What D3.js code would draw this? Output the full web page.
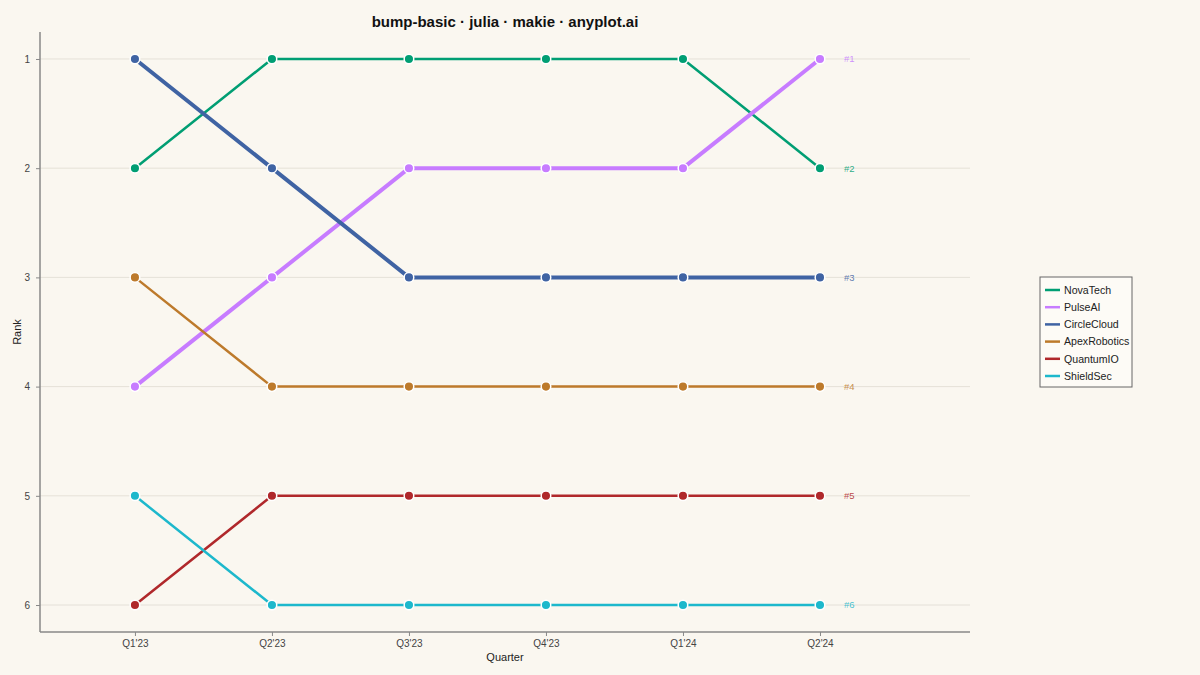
<!DOCTYPE html>
<html><head><meta charset="utf-8">
<script src="https://cdn.jsdelivr.net/npm/d3@7"></script>
<style>
html,body{margin:0;padding:0;background:#FAF7F0;}
svg{display:block;font-family:"Liberation Sans",Arial,sans-serif;}
</style></head>
<body>
<svg id="chart" width="1200" height="675"></svg>
<script>
const quarters = ["Q1'23","Q2'23","Q3'23","Q4'23","Q1'24","Q2'24"];
const companies = ["NovaTech","PulseAI","CircleCloud","ApexRobotics","QuantumIO","ShieldSec"];
const colors = ["#009E73","#C77CFF","#3F63A3","#BD7A2B","#B0282B","#1DB8CC"];
const ranksNovaTech = [2,1,1,1,1,2];
const ranksPulseAI = [4,3,2,2,2,1];
const ranksCircleCloud = [1,2,3,3,3,3];
const ranksApexRobotics = [3,4,4,4,4,4];
const ranksQuantumIO = [6,5,5,5,5,5];
const ranksShieldSec = [5,6,6,6,6,6];
const rankTicks = [1,2,3,4,5,6];
const allRanks = [ranksNovaTech,ranksPulseAI,ranksCircleCloud,ranksApexRobotics,ranksQuantumIO,ranksShieldSec];
const highlighted = ["PulseAI","CircleCloud"];

const svg = d3.select("#chart");
const L = 40, R = 970, T = 32, B = 632;
const x = d3.scaleLinear().domain([-0.693, 6.095]).range([L, R]);
const y = d3.scaleLinear().domain([0.753, 6.247]).range([T, B]);

// grid
svg.append("g").selectAll("line").data(rankTicks).join("line")
  .attr("x1", L).attr("x2", R).attr("y1", d => y(d)).attr("y2", d => y(d))
  .attr("stroke", "#E5E1D8").attr("stroke-width", 1);

// axes
const xAxis = d3.axisBottom(x).tickValues(d3.range(quarters.length)).tickFormat(i => quarters[i]).tickSize(4).tickPadding(4);
const yAxis = d3.axisLeft(y).tickValues(rankTicks).tickFormat(d3.format("d")).tickSize(4).tickPadding(6);
const gx = svg.append("g").attr("transform", `translate(0,${B})`).call(xAxis);
const gy = svg.append("g").attr("transform", `translate(${L},0)`).call(yAxis);
[gx, gy].forEach(g => {
  g.select(".domain").attr("stroke", "#888").attr("stroke-width", 1.5);
  g.selectAll(".tick line").attr("stroke", "#888");
  g.selectAll(".tick text").attr("fill", "#444").attr("font-size", 10).attr("font-family", "Liberation Sans, Arial, sans-serif");
});
gx.select(".domain").attr("d", `M${L},0H${R}`);
gy.select(".domain").attr("d", `M0,${T}V${B}`);

// series
const line = d3.line().x((d, i) => x(i)).y(d => y(d));
companies.forEach((c, k) => {
  const data = allRanks[k];
  const hl = highlighted.includes(c);
  const g = svg.append("g");
  g.append("path").datum(data).attr("d", line).attr("fill", "none")
    .attr("stroke", colors[k]).attr("stroke-width", hl ? 4 : 2.5).attr("stroke-linejoin", "round");
  g.selectAll("circle").data(data).join("circle")
    .attr("cx", (d, i) => x(i)).attr("cy", d => y(d)).attr("r", 4.8)
    .attr("fill", colors[k]).attr("stroke", "#FFFFFF").attr("stroke-width", 1.5);
  const last = data[data.length - 1];
  svg.append("text").attr("x", x(data.length - 1) + 24).attr("y", y(last)).attr("dy", "0.35em")
    .attr("fill", colors[k]).attr("fill-opacity", 0.85).attr("font-size", 9.5).text("#" + last);
});

// title & axis labels
svg.append("text").attr("x", 505).attr("y", 27).attr("text-anchor", "middle")
  .attr("font-size", 15).attr("font-weight", "bold").attr("fill", "#111").text("bump-basic · julia · makie · anyplot.ai");
svg.append("text").attr("x", 505).attr("y", 661).attr("text-anchor", "middle")
  .attr("font-size", 11).attr("fill", "#222").text("Quarter");
svg.append("text").attr("transform", `translate(21,${(T+B)/2}) rotate(-90)`).attr("text-anchor", "middle")
  .attr("font-size", 11).attr("fill", "#222").text("Rank");

// legend
const lg = svg.append("g").attr("transform", "translate(1040,277)");
lg.append("rect").attr("x", 0).attr("y", 0).attr("width", 92).attr("height", 110)
  .attr("fill", "#FDFBF6").attr("stroke", "#666").attr("stroke-width", 1);
companies.forEach((c, k) => {
  const yy = 13 + k * 17.2;
  lg.append("line").attr("x1", 5).attr("x2", 20).attr("y1", yy).attr("y2", yy)
    .attr("stroke", colors[k]).attr("stroke-width", 2.5);
  lg.append("text").attr("x", 24).attr("y", yy).attr("dy", "0.35em").attr("font-size", 10.6)
    .attr("fill", "#222").text(c);
});
</script>
</body></html>
